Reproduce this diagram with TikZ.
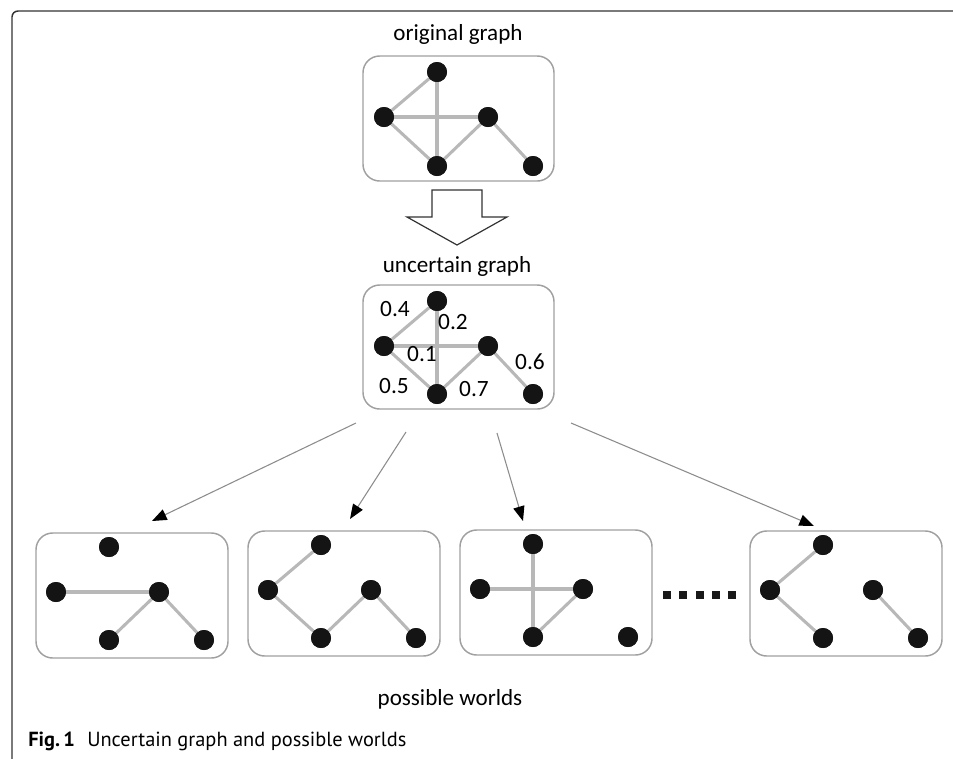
\documentclass[tikz,border=0pt]{standalone}
\usepackage{fontspec}
\setmainfont{Carlito}
\newfontfamily\capfont{PT Sans}
\usetikzlibrary{arrows.meta}
\definecolor{edgegray}{HTML}{B8B8B8}
\definecolor{boxgray}{HTML}{A0A0A0}
\definecolor{arrgray}{HTML}{8C8C8C}
\definecolor{framegray}{HTML}{333333}
\tikzset{
  dot/.style={circle,fill=black!92,inner sep=0pt,minimum size=15pt},
  gedge/.style={draw=edgegray,line width=2.3pt},
  gframe/.style={draw=boxgray,line width=1.1pt,rounded corners=12.5pt},
  title/.style={font=\fontsize{17.3pt}{20pt}\selectfont,anchor=base,inner sep=0pt},
  prob/.style={font=\fontsize{17.5pt}{20pt}\selectfont,inner sep=0pt},
  flow/.style={draw=arrgray,line width=0.8pt,-{Triangle[length=11pt,width=8.5pt,color=black]}},
  blockarrow/.style={draw=framegray,line width=0.9pt,fill=white},
}
\newcommand\graphbox[3]{%
  \draw[gframe] (#2,#3) rectangle ++(192,125);
  \node[dot] (#1t) at (#2+73,#3+14) {};
  \node[dot] (#1l) at (#2+20,#3+59) {};
  \node[dot] (#1r) at (#2+123,#3+59) {};
  \node[dot] (#1b) at (#2+73,#3+107) {};
  \node[dot] (#1f) at (#2+168,#3+107) {};
}
\begin{document}
\begin{tikzpicture}[x=0.75pt,y=-0.75pt]
\useasboundingbox (0,0) rectangle (953,758);
% outer frame (open to the right and bottom)
\draw[framegray,line width=1.1pt,rounded corners=4.5pt] (12,760) -- (12,11) -- (955,11);

% original graph
\node[title] (torig) at (458,40) {original graph};
\draw[gframe] (363,56) rectangle ++(191,125);
\node[dot] (ot) at (437,72) {};
\node[dot] (ol) at (384,117) {};
\node[dot] (or) at (488,117) {};
\node[dot] (ob) at (437,166) {};
\node[dot] (of) at (533,166) {};
\draw[gedge] (ot) -- (ol);
\draw[gedge] (ot) -- (ob);
\draw[gedge] (ol) -- (or);
\draw[gedge] (ol) -- (ob);
\draw[gedge] (ob) -- (or);
\draw[gedge] (or) -- (of);
\foreach \n in {ot,ol,or,ob,of} {\node[dot] at (\n) {};}

% block arrow
\draw[blockarrow] (432,190) -- (482,190) -- (482,217) -- (507,217) -- (457,245) -- (407,217) -- (432,217) -- cycle;

% uncertain graph
\node[title] (tunc) at (457,272) {uncertain graph};
\draw[gframe] (363,285) rectangle ++(191,124);
\node[dot] (ut) at (437,301) {};
\node[dot] (ul) at (384,346) {};
\node[dot] (ur) at (488,346) {};
\node[dot] (ub) at (437,394) {};
\node[dot] (uf) at (533,394) {};
\draw[gedge] (ut) -- (ul);
\draw[gedge] (ut) -- (ub);
\draw[gedge] (ul) -- (ur);
\draw[gedge] (ul) -- (ub);
\draw[gedge] (ub) -- (ur);
\draw[gedge] (ur) -- (uf);
\foreach \n in {ut,ul,ur,ub,uf} {\node[dot] at (\n) {};}
\node[prob] (p04) at (395,309) {0.4};
\node[prob] (p02) at (453,322) {0.2};
\node[prob] (p01) at (422,354) {0.1};
\node[prob] (p05) at (394,386) {0.5};
\node[prob] (p07) at (474,389) {0.7};
\node[prob] (p06) at (530,362) {0.6};

% arrows to possible worlds
\coordinate (s1) at (356,423);
\coordinate (e1) at (152,521);
\coordinate (s2) at (406,432);
\coordinate (e2) at (350,519);
\coordinate (s3) at (497,433);
\coordinate (e3) at (523,521);
\coordinate (s4) at (571,423);
\coordinate (e4) at (814,526);
\draw[flow] (s1) -- (e1);
\draw[flow] (s2) -- (e2);
\draw[flow] (s3) -- (e3);
\draw[flow] (s4) -- (e4);

% possible worlds
\graphbox{a}{36}{533}
\draw[gedge] (al) -- (ar);
\draw[gedge] (ar) -- (ab);
\draw[gedge] (ar) -- (af);
\foreach \n in {at,al,ar,ab,af} {\node[dot] at (\n) {};}

\graphbox{b}{248}{531}
\draw[gedge] (bt) -- (bl);
\draw[gedge] (bl) -- (bb);
\draw[gedge] (bb) -- (br);
\draw[gedge] (br) -- (bf);
\foreach \n in {bt,bl,br,bb,bf} {\node[dot] at (\n) {};}

\graphbox{c}{460}{530}
\draw[gedge] (ct) -- (cb);
\draw[gedge] (cl) -- (cr);
\draw[gedge] (cb) -- (cr);
\foreach \n in {ct,cl,cr,cb,cf} {\node[dot] at (\n) {};}

\graphbox{d}{750}{531}
\draw[gedge] (dt) -- (dl);
\draw[gedge] (dl) -- (db);
\draw[gedge] (dr) -- (df);
\foreach \n in {dt,dl,dr,db,df} {\node[dot] at (\n) {};}

% ellipsis squares
\foreach \i in {0,...,4} {
  \fill[black!90] (667+16.3*\i-4,591) rectangle ++(8,8);
}

\node[title] (tpw) at (450,705) {possible worlds};

% caption
\node[anchor=base west,inner sep=0pt,font=\capfont\fontsize{15.3pt}{18pt}\selectfont] (cap) at (28,746) {\textbf{Fig.\,1}\hspace{0.6em}Uncertain graph and possible worlds};
\end{tikzpicture}
\end{document}
